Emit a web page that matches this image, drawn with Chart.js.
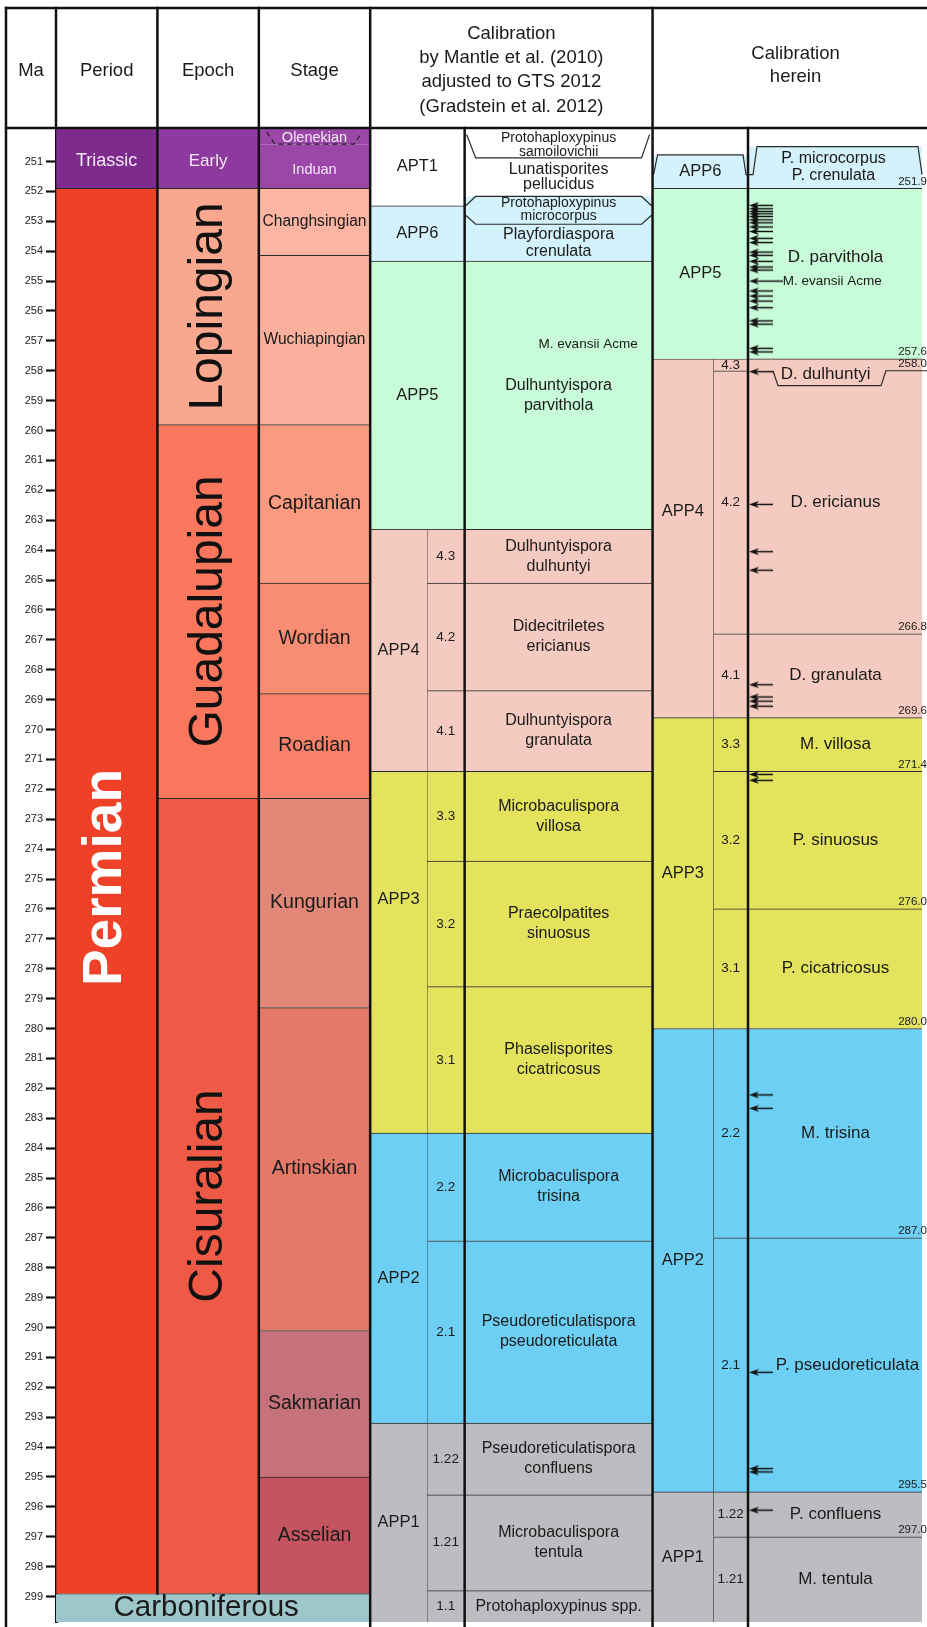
<!DOCTYPE html>
<html>
<head>
<meta charset="utf-8">
<script src="https://cdn.jsdelivr.net/npm/chart.js@4.4.1/dist/chart.umd.min.js"></script>
<style>
html,body{margin:0;padding:0;background:#fff;}
canvas{display:block;}
</style>
</head>
<body>
<canvas id="c" width="927" height="1627" style="width:927px;height:1627px"></canvas>
<script>
// ================= DATA (ages in Ma) =================
const maTicks = [251,252,253,254,255,256,257,258,259,260,261,262,263,264,265,266,267,268,269,270,271,272,273,274,275,276,277,278,279,280,281,282,283,284,285,286,287,288,289,290,291,292,293,294,295,296,297,298,299];
const yMin = 249.88, yMax = 299.85;

const periodNames = ['Triassic', 'Permian'];
const periodTops  = [249.88, 251.9];
const periodBases = [251.9, 298.9];
const carbName = ['Carboniferous'];
const carbTops = [298.9];
const carbBases = [299.85];

const epochNames = ['Early', 'Lopingian', 'Guadalupian', 'Cisuralian'];
const epochTops  = [249.88, 251.9, 259.8, 272.3];
const epochBases = [251.9, 259.8, 272.3, 298.9];

const stageNames = ['Olenekian', 'Induan', 'Changhsingian', 'Wuchiapingian', 'Capitanian', 'Wordian', 'Roadian', 'Kungurian', 'Artinskian', 'Sakmarian', 'Asselian'];
const stageTops  = [249.88, 250.42, 251.9, 254.14, 259.8, 265.1, 268.8, 272.3, 279.3, 290.1, 295.0];
const stageBases = [250.42, 251.9, 254.14, 259.8, 265.1, 268.8, 272.3, 279.3, 290.1, 295.0, 298.9];

// Calibration by Mantle et al. (2010) adjusted to GTS 2012
const mantleZoneNames = ['APT1', 'APP6', 'APP5'];
const mantleZoneTops  = [249.88, 252.48, 254.33];
const mantleZoneBases = [252.48, 254.33, 263.3];
const mantleZoneNarrowNames = ['APP4', 'APP3', 'APP2', 'APP1'];
const mantleZoneNarrowTops  = [263.3, 271.4, 283.5, 293.2];
const mantleZoneNarrowBases = [271.4, 283.5, 293.2, 299.85];
const mantleSubNames = ['4.3', '4.2', '4.1', '3.3', '3.2', '3.1', '2.2', '2.1', '1.22', '1.21', '1.1'];
const mantleSubTops  = [263.3, 265.1, 268.7, 271.4, 274.4, 278.6, 283.5, 287.1, 293.2, 295.6, 298.8];
const mantleSubBases = [265.1, 268.7, 271.4, 274.4, 278.6, 283.5, 287.1, 293.2, 295.6, 298.8, 299.85];
const mantleSpeciesNames = ['Lunatisporites\npellucidus', 'Playfordiaspora\ncrenulata', 'Dulhuntyispora\nparvithola', 'Dulhuntyispora\ndulhuntyi', 'Didecitriletes\nericianus', 'Dulhuntyispora\ngranulata', 'Microbaculispora\nvillosa', 'Praecolpatites\nsinuosus', 'Phaselisporites\ncicatricosus', 'Microbaculispora\ntrisina', 'Pseudoreticulatispora\npseudoreticulata', 'Pseudoreticulatispora\nconfluens', 'Microbaculispora\ntentula', 'Protohaploxypinus spp.'];
const mantleSpeciesTops  = [249.88, 252.17, 254.33, 263.3, 265.1, 268.7, 271.4, 274.4, 278.6, 283.5, 287.1, 293.2, 295.6, 298.8];
const mantleSpeciesBases = [252.17, 254.33, 263.3, 265.1, 268.7, 271.4, 274.4, 278.6, 283.5, 287.1, 293.2, 295.6, 298.8, 299.85];
const mantleBracketNames = ['Protohaploxypinus\nsamoilovichii', 'Protohaploxypinus\nmicrocorpus'];
const mantleBracketTops  = [250.1, 252.17];
const mantleBracketBases = [250.88, 253.1];
const mantleAcmeAge = 257.1;

// Calibration herein
const hereinZoneNames = ['APP6', 'APP5'];
const hereinZoneTops  = [250.78, 251.9];
const hereinZoneBases = [251.9, 257.6];
const hereinZoneNarrowNames = ['APP4', 'APP3', 'APP2', 'APP1'];
const hereinZoneNarrowTops  = [257.6, 269.6, 280.0, 295.5];
const hereinZoneNarrowBases = [269.6, 280.0, 295.5, 299.85];
const hereinSubNames = ['4.3', '4.2', '4.1', '3.3', '3.2', '3.1', '2.2', '2.1', '1.22', '1.21'];
const hereinSubTops  = [257.6, 258.0, 266.8, 269.6, 271.4, 276.0, 280.0, 287.0, 295.5, 297.0];
const hereinSubBases = [258.0, 266.8, 269.6, 271.4, 276.0, 280.0, 287.0, 295.5, 297.0, 299.85];
const hereinSpeciesNames = ['P. microcorpus\nP. crenulata', 'D. parvithola', 'D. ericianus', 'D. granulata', 'M. villosa', 'P. sinuosus', 'P. cicatricosus', 'M. trisina', 'P. pseudoreticulata', 'P. confluens', 'M. tentula'];
const hereinSpeciesTops  = [250.5, 251.9, 257.6, 266.8, 269.6, 271.4, 276.0, 280.0, 287.0, 295.5, 297.0];
const hereinSpeciesBases = [251.9, 257.6, 266.8, 269.6, 271.4, 276.0, 280.0, 287.0, 295.5, 297.0, 299.85];
const hereinBoundaryAges = [251.9, 257.6, 258.0, 266.8, 269.6, 271.4, 276.0, 280.0, 287.0, 295.5, 297.0];
const dulhuntyiName = 'D. dulhuntyi';
const dulhuntyiTop = 258.0, dulhuntyiBase = 258.5;
const hereinAcmeAge = 255.0;
const hereinArrowAges = [252.47, 252.58, 252.67, 252.75, 252.84, 252.95, 253.05, 253.19, 253.34, 253.57, 253.71, 254.03, 254.14, 254.34, 254.53, 254.63, 255.33, 255.5, 255.67, 255.89, 256.33, 256.44, 257.25, 257.37, 258.03, 262.47, 264.05, 264.67, 268.5, 268.91, 269.05, 269.22, 271.5, 271.7, 282.22, 282.67, 291.5, 294.72, 294.83, 296.11];
const hereinLongArrowAges = [255.0];

// ================= STYLE / LAYOUT =================
const SANS = '"Liberation Sans", Arial, Helvetica, sans-serif';
const zoneColors = { APT1: '#ffffff', APP6: '#d4f2fb', APP5: '#c8fbd8', APP4: '#f5cbc1', APP3: '#e3e35d', APP2: '#6dcff4', APP1: '#bcbdc0' };
const periodColors = { Triassic: '#7d2b8d', Permian: '#ef4128', Carboniferous: '#9ec7cb' };
const epochColors = { Early: '#8c3a9d', Lopingian: '#f9a78f', Guadalupian: '#fa765d', Cisuralian: '#ef5a47' };
const stageColors = { Olenekian: '#9a47a7', Induan: '#9a47a7', Changhsingian: '#fbb5a2', Wuchiapingian: '#fab09c', Capitanian: '#fa9a81', Wordian: '#f98d74', Roadian: '#f9816a', Kungurian: '#e28878', Artinskian: '#e4796a', Sakmarian: '#c5727a', Asselian: '#c4545f' };

// column extents in x-scale units (chart area is 871 units wide)
const COL = {
  period: { l: 0, r: 102 }, epoch: { l: 102, r: 204 }, stage: { l: 204, r: 316 }, carb: { l: 0, r: 316 },
  mZoneW: { l: 316, r: 411 }, mZoneN: { l: 316, r: 373 }, mSub: { l: 373, r: 411 }, mSpec: { l: 411, r: 600 },
  hZoneW: { l: 600, r: 696 }, hZoneN: { l: 600, r: 661 }, hSub: { l: 661, r: 696 }, hSpec: { l: 696, r: 900 }
};
const hSpecTextX = 784;

function zoneAt(names, tops, bases, age) {
  for (let i = 0; i < names.length; i++) if (age >= tops[i] && age <= bases[i]) return names[i];
  return null;
}
const mantleAll = { n: mantleZoneNames.concat(mantleZoneNarrowNames), t: mantleZoneTops.concat(mantleZoneNarrowTops), b: mantleZoneBases.concat(mantleZoneNarrowBases) };
const hereinAll = { n: hereinZoneNames.concat(hereinZoneNarrowNames), t: hereinZoneTops.concat(hereinZoneNarrowTops), b: hereinZoneBases.concat(hereinZoneNarrowBases) };
const mantleColorAt = (t, b) => zoneColors[zoneAt(mantleAll.n, mantleAll.t, mantleAll.b, (t + b) / 2)];
const hereinColorAt = (t, b) => zoneColors[zoneAt(hereinAll.n, hereinAll.t, hereinAll.b, (t + b) / 2)];

const labels = [];
function makeBars(key, names, tops, bases, col, colorOf, noTop, textStyle) {
  names.forEach((n, i) => {
    const st = textStyle(n, i);
    if (st) labels.push(Object.assign({ text: n, x: (col.l + col.r) / 2, age: (tops[i] + bases[i]) / 2 }, st));
  });
  return {
    type: 'bar', label: key,
    data: names.map((n, i) => ({ x: (col.l + col.r) / 2, y: [tops[i], bases[i]] })),
    barThickness: col.r - col.l,
    backgroundColor: names.map((n, i) => colorOf(n, i)),
    borderColor: '#2a2a2a',
    borderWidth: ctx => ({ top: (ctx.dataIndex !== undefined && noTop.includes(ctx.dataIndex)) ? 0 : 1, left: 1, right: 0, bottom: 0 }),
    borderSkipped: false,
    grouped: false,
    order: 1
  };
}
const txt = (size, extra) => Object.assign({ font: size + 'px ' + SANS, color: '#1a1a1a', lh: size * 1.2 }, extra || {});

const datasets = [];
datasets.push(makeBars('period', periodNames, periodTops, periodBases, COL.period, n => periodColors[n], [],
  (n) => n === 'Permian'
    ? { font: 'bold 55px ' + SANS, color: '#ffffff', rotate: true, baseOff: 14, age: 274.95 }
    : txt(18, { color: '#f4e8f4', age: 251.0 })));
datasets.push(makeBars('carb', carbName, carbTops, carbBases, COL.carb, n => periodColors[n], [],
  () => txt(29.5, { x: 151, age: 299.38 })));
datasets.push(makeBars('epoch', epochNames, epochTops, epochBases, COL.epoch, n => epochColors[n], [],
  (n) => n === 'Early'
    ? txt(17, { color: '#f4e8f4', age: 251.0 })
    : { font: '48px ' + SANS, color: '#111', rotate: true, baseOff: 14 }));
datasets.push(makeBars('stage', stageNames, stageTops, stageBases, COL.stage, n => stageColors[n], [1],
  (n) => n === 'Olenekian' ? txt(14.5, { color: '#f4e8f4', age: 250.2 })
    : n === 'Induan' ? txt(14.5, { color: '#f4e8f4', age: 251.28 })
    : (n === 'Changhsingian' || n === 'Wuchiapingian') ? txt(15.6) : txt(19.5)));

datasets.push(makeBars('mZone', mantleZoneNames, mantleZoneTops, mantleZoneBases, COL.mZoneW, n => zoneColors[n], [], () => txt(16.5)));
datasets.push(makeBars('mZoneN', mantleZoneNarrowNames, mantleZoneNarrowTops, mantleZoneNarrowBases, COL.mZoneN, n => zoneColors[n], [],
  (n) => n === 'APP3' ? txt(16.5, { age: 275.67 }) : txt(16.5)));
datasets.push(makeBars('mSub', mantleSubNames, mantleSubTops, mantleSubBases, COL.mSub, (n, i) => mantleColorAt(mantleSubTops[i], mantleSubBases[i]), [], () => txt(13.5)));
datasets.push(makeBars('mSpec', mantleSpeciesNames, mantleSpeciesTops, mantleSpeciesBases, COL.mSpec, (n, i) => mantleColorAt(mantleSpeciesTops[i], mantleSpeciesBases[i]), [1],
  (n, i) => i === 0 ? txt(16, { lh: 15.5, age: 251.53 }) : i === 1 ? txt(16, { lh: 17, age: 253.73 }) : txt(16, { lh: 20 })));

datasets.push(makeBars('hZone', hereinZoneNames, hereinZoneTops, hereinZoneBases, COL.hZoneW, n => zoneColors[n], [0], () => txt(16.5)));
datasets.push(makeBars('hZoneN', hereinZoneNarrowNames, hereinZoneNarrowTops, hereinZoneNarrowBases, COL.hZoneN, n => zoneColors[n], [],
  (n) => n === 'APP4' ? txt(16.5, { age: 262.7 }) : txt(16.5)));
datasets.push(makeBars('hSub', hereinSubNames, hereinSubTops, hereinSubBases, COL.hSub, (n, i) => hereinColorAt(hereinSubTops[i], hereinSubBases[i]), [], () => txt(13.5)));
datasets.push(makeBars('hSpec', hereinSpeciesNames, hereinSpeciesTops, hereinSpeciesBases, COL.hSpec, (n, i) => hereinColorAt(hereinSpeciesTops[i], hereinSpeciesBases[i]), [0],
  (n, i) => i === 0 ? txt(16, { x: hSpecTextX - 2, lh: 17 })
    : i === 1 ? txt(17, { x: hSpecTextX, age: 254.22 })
    : i === 2 ? txt(17, { x: hSpecTextX, age: 262.4 })
    : n === 'P. pseudoreticulata' ? txt(17, { x: hSpecTextX + 12 })
    : txt(17, { x: hSpecTextX })));

// extra text labels
mantleBracketNames.forEach((n, i) => labels.push(txt(14, { text: n, lh: 13.5, x: (COL.mSpec.l + COL.mSpec.r) / 2, age: (mantleBracketTops[i] + mantleBracketBases[i]) / 2 - 0.03 })));
labels.push(txt(13.5, { text: 'M. evansii Acme', x: 585, age: mantleAcmeAge, align: 'right' }));
labels.push(txt(13.5, { text: 'M. evansii Acme', x: 731, age: hereinAcmeAge, align: 'left' }));
labels.push(txt(17, { text: dulhuntyiName, x: 774, age: (dulhuntyiTop + dulhuntyiBase) / 2 - 0.12 }));
hereinBoundaryAges.forEach(a => labels.push(txt(11.5, { text: a.toFixed(1), x: 847, age: a, align: 'left', baseline: 'bottom', dy: -1 })));

// arrows drawn as points with an arrow-shaped point style
function arrowCanvas(len) {
  const c = document.createElement('canvas');
  c.width = len; c.height = 9;
  const g = c.getContext('2d');
  g.fillStyle = '#111'; g.strokeStyle = '#111';
  g.beginPath(); g.moveTo(0, 4.5); g.lineTo(10, 1); g.lineTo(7, 4.5); g.lineTo(10, 8); g.closePath(); g.fill();
  g.lineWidth = 1.5; g.beginPath(); g.moveTo(5, 4.5); g.lineTo(len, 4.5); g.stroke();
  return c;
}
const arrowShort = arrowCanvas(24), arrowLong = arrowCanvas(34);
datasets.push({ type: 'scatter', label: 'arrows', data: hereinArrowAges.map(a => ({ x: 697 + 12, y: a })), pointStyle: arrowShort, pointRadius: 3, order: -1 });
datasets.push({ type: 'scatter', label: 'arrowsLong', data: hereinLongArrowAges.map(a => ({ x: 697 + 17, y: a })), pointStyle: arrowLong, pointRadius: 3, order: -1 });

// ================= PLUGIN: header, frame, texts, brackets =================
const tablePlugin = {
  id: 'table',
  afterDraw(chart) {
    const ctx = chart.ctx, xs = chart.scales.x, ys = chart.scales.y;
    const X = u => xs.getPixelForValue(u);
    const Y = a => ys.getPixelForValue(a);
    const area = chart.chartArea;
    const top = 8, hb = area.top, bottom = chart.height, left = 6, right = chart.width;

    // brackets
    ctx.save();
    ctx.strokeStyle = '#2a2a2a'; ctx.lineWidth = 1.2;
    const poly = pts => { ctx.beginPath(); pts.forEach((p, i) => i ? ctx.lineTo(p[0], p[1]) : ctx.moveTo(p[0], p[1])); ctx.stroke(); };
    const ml = X(COL.mSpec.l), mr = X(COL.mSpec.r);
    poly([[ml + 2, Y(mantleBracketTops[0])], [ml + 11, Y(mantleBracketBases[0])], [mr - 11, Y(mantleBracketBases[0])], [mr - 3, Y(mantleBracketTops[0])]]);
    poly([[ml + 1, Y(mantleZoneBases[0])], [ml + 11, Y(mantleBracketTops[1])], [mr - 11, Y(mantleBracketTops[1])], [mr - 1, Y(mantleZoneBases[0])]]);
    poly([[ml + 1, Y(mantleBracketBases[1] - 0.3)], [ml + 11, Y(mantleBracketBases[1])], [mr - 11, Y(mantleBracketBases[1])], [mr - 1, Y(mantleBracketBases[1] - 0.3)]]);
    const zl = X(COL.hZoneW.l), zr = X(COL.hZoneW.r), sl = X(COL.hSpec.l);
    const low = Y(hereinZoneTops[0] + 0.66);
    poly([[zl + 1, low], [zl + 5, Y(hereinZoneTops[0])], [zr - 5, Y(hereinZoneTops[0])], [zr - 2, low], [sl + 5, low], [sl + 9, Y(hereinSpeciesTops[0])], [sl + 170, Y(hereinSpeciesTops[0])], [sl + 174, low]]);
    poly([[sl + 25, Y(dulhuntyiTop)], [sl + 30, Y(dulhuntyiBase)], [sl + 133, Y(dulhuntyiBase)], [sl + 138, Y(dulhuntyiTop)], [right, Y(dulhuntyiTop)]]);
    // Olenekian dashed bracket
    const stl = X(COL.stage.l), str = X(COL.stage.r);
    ctx.strokeStyle = '#222'; ctx.lineWidth = 1.2;
    ctx.setLineDash([5, 4]);
    poly([[stl + 8, Y(250.02)], [stl + 16, Y(stageTops[1])], [str - 16, Y(stageTops[1])], [str - 8, Y(250.02)]]);
    ctx.setLineDash([]);
    ctx.restore();

    // texts
    labels.forEach(l => {
      ctx.save();
      ctx.font = l.font; ctx.fillStyle = l.color;
      const x = X(l.x), y = Y(l.age) + (l.dy || 0);
      if (l.rotate) {
        ctx.translate(x + l.baseOff, y);
        ctx.rotate(-Math.PI / 2);
        ctx.textAlign = 'center'; ctx.textBaseline = 'alphabetic';
        ctx.fillText(l.text, 0, 0);
      } else {
        ctx.textAlign = l.align || 'center';
        ctx.textBaseline = l.baseline || 'middle';
        const lines = l.text.split('\n');
        lines.forEach((s, i) => ctx.fillText(s, x, y + (i - (lines.length - 1) / 2) * l.lh));
      }
      ctx.restore();
    });

    // frame lines
    ctx.save();
    ctx.strokeStyle = '#111'; ctx.lineWidth = 2.5; ctx.lineCap = 'square';
    const line = (x1, y1, x2, y2) => { ctx.beginPath(); ctx.moveTo(x1, y1); ctx.lineTo(x2, y2); ctx.stroke(); };
    line(left, top, right, top);
    line(left, hb, right, hb);
    line(left, top, left, bottom);
    line(area.left, top, area.left, hb);
    const carbY = Y(carbTops[0]);
    line(X(COL.epoch.l), top, X(COL.epoch.l), carbY);
    line(X(COL.stage.l), top, X(COL.stage.l), carbY);
    line(X(COL.stage.r), top, X(COL.stage.r), bottom);
    line(X(COL.mSpec.l), hb, X(COL.mSpec.l), bottom);
    line(X(COL.mSpec.r), top, X(COL.mSpec.r), bottom);
    line(X(COL.hSpec.l), hb, X(COL.hSpec.l), bottom);
    ctx.restore();

    // header
    ctx.save();
    ctx.fillStyle = '#1a1a1a'; ctx.textAlign = 'center'; ctx.textBaseline = 'middle';
    ctx.font = '18.5px ' + SANS;
    const hy = 71;
    ctx.fillText('Ma', (left + area.left) / 2, hy);
    ctx.fillText('Period', X((COL.period.l + COL.period.r) / 2), hy);
    ctx.fillText('Epoch', X((COL.epoch.l + COL.epoch.r) / 2), hy);
    ctx.fillText('Stage', X((COL.stage.l + COL.stage.r) / 2), hy);
    const mc = X((COL.mZoneW.l + COL.mSpec.r) / 2);
    ['Calibration', 'by Mantle et al. (2010)', 'adjusted to GTS 2012', '(Gradstein et al. 2012)'].forEach((s, i) => ctx.fillText(s, mc, 33.5 + i * 24.4));
    const hc = X(COL.hZoneW.l) + 143;
    ['Calibration', 'herein'].forEach((s, i) => ctx.fillText(s, hc, 53.5 + i * 23.5));
    ctx.restore();
  }
};

new Chart(document.getElementById('c'), {
  type: 'bar',
  data: { datasets },
  options: {
    responsive: false,
    animation: false,
    devicePixelRatio: 1,
    layout: { padding: { top: 128, left: 0, right: 0, bottom: 0 } },
    plugins: { legend: { display: false }, tooltip: { enabled: false }, title: { display: false } },
    scales: {
      x: { type: 'linear', min: 0, max: 871, display: false, offset: false, grid: { offset: false } },
      y: {
        type: 'linear', reverse: true, min: yMin, max: yMax, beginAtZero: false,
        afterBuildTicks: s => { s.ticks = maTicks.map(v => ({ value: v })); },
        afterFit: s => { s.width = 56; s.paddingTop = 0; s.paddingBottom = 0; },
        ticks: { font: { family: SANS, size: 11 }, color: '#222', padding: 3, autoSkip: false, callback: v => String(v) },
        grid: { drawOnChartArea: false, drawTicks: true, tickLength: 10, tickWidth: 2.2, tickColor: '#111' },
        border: { display: true, color: '#111', width: 3 }
      }
    }
  },
  plugins: [tablePlugin]
});
</script>
</body>
</html>
